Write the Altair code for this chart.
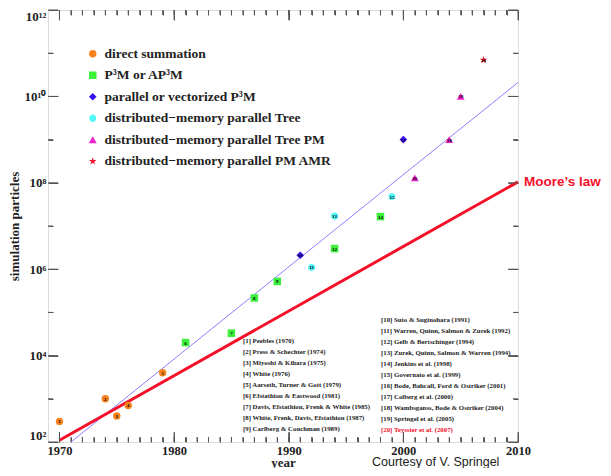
import altair as alt
import pandas as pd

# ---------------- data ----------------
ref_num = list(range(1, 21))
years = [1970, 1974, 1975, 1976, 1979, 1981, 1985, 1987, 1989, 1991,
         1992, 1994, 1994, 1998, 1999, 2001, 2000, 2004, 2005, 2007]
particles = [300, 1000, 400, 700, 4000, 2.0e4, 3.3e4, 2.16e5, 5.2e5, 2.1e6,
             1.1e6, 3.0e6, 1.7e7, 1.65e7, 4.8e7, 1.3e8, 1.0e9, 1.0e9, 1.0e10, 7.0e10]
categories = [
    "direct summation",
    "P³M or AP³M",
    "parallel or vectorized P³M",
    "distributed−memory parallel Tree",
    "distributed−memory parallel Tree PM",
    "distributed−memory parallel PM AMR",
]
point_cat = [0, 0, 0, 0, 0, 1, 1, 1, 1, 2, 3, 1, 3, 1, 3, 4, 2, 4, 4, 5]
cat_colors = ["#f7821e", "#3cf03c", "#3a10f0", "#50f8f8", "#ee22cc", "#f5102a"]
HEX = "M0,-1L0.866,-0.5L0.866,0.5L0,1L-0.866,0.5L-0.866,-0.5Z"
STAR = ("M0,-1L0.2245,-0.309L0.951,-0.309L0.363,0.118L0.588,0.809L0,0.382"
        "L-0.588,0.809L-0.363,0.118L-0.951,-0.309L-0.2245,-0.309Z")
cat_shapes = ["circle", "square", "diamond", HEX, "triangle-up", STAR]
cat_sizes = [55, 64, 121, 120, 110, 300]

fit_years = [1971, 2010]
fit_values = [100, 2.1e10]
moore_years = [1970, 2010]
moore_values = [110, 1.05e8]
moore_label = "Moore’s law"

refs_col1 = [
    "[1] Peebles (1970)",
    "[2] Press & Schechter (1974)",
    "[3] Miyoshi & Kihara (1975)",
    "[4] White (1976)",
    "[5] Aarseth, Turner & Gott (1979)",
    "[6] Efstathiou & Eastwood (1981)",
    "[7] Davis, Efstathiou, Frenk & White (1985)",
    "[8] White, Frenk, Davis, Efstathiou (1987)",
    "[9] Carlberg & Couchman (1989)",
]
refs_col2 = [
    "[10] Suto & Suginohara (1991)",
    "[11] Warren, Quinn, Salmon & Zurek (1992)",
    "[12] Gelb & Bertschinger (1994)",
    "[13] Zurek, Quinn, Salmon & Warren (1994)",
    "[14] Jenkins et al. (1998)",
    "[15] Governato et al. (1999)",
    "[16] Bode, Bahcall, Ford & Ostriker (2001)",
    "[17] Colberg et al. (2000)",
    "[18] Wambsganss, Bode & Ostriker (2004)",
    "[19] Springel et al. (2005)",
]
ref_highlight = "[20] Teyssier et al. (2007)"
courtesy = "Courtesy of V. Springel"

x_major = [1970, 1980, 1990, 2000, 2010]
x_minor = list(range(1970, 2010))
y_major = [1e2, 1e4, 1e6, 1e8, 1e10, 1e12]
y_minor = [1e3, 1e5, 1e7, 1e9, 1e11]
y_labels = ["10²", "10⁴", "10⁶", "10⁸", "10¹⁰", "10¹²"]

# ---------------- build ----------------
W, H = 470, 432
SERIF = "Liberation Serif"
SANS = "Liberation Sans"
AX = "#555555"
TXT = "#222222"
RED = "#f5102a"

df = pd.DataFrame({
    "num": ref_num,
    "year": years,
    "particles": particles,
    "method": [categories[i] for i in point_cat],
})

x_scale = alt.Scale(domain=[1969, 2010], nice=False, zero=False)
y_scale = alt.Scale(type="log", domain=[1e2, 1e12], nice=False)

label_expr = "'" + y_labels[-1] + "'"
for v, l in reversed(list(zip(y_major[:-1], y_labels[:-1]))):
    label_expr = f"datum.value < {v * 3:g} ? '{l}' : ({label_expr})"


# inward-pointing tick axes (negative tick size given as an expression)
def tick_axes(x_orient, y_orient, xv, yv, size):
    common = dict(labels=False, domain=False, grid=False, title=None,
                  tickColor=AX, tickWidth=1, ticks=True,
                  tickSize={"expr": str(-size)})
    return alt.Chart(df).mark_point(opacity=0).encode(
        x=alt.X("year:Q", scale=x_scale,
                axis=alt.Axis(orient=x_orient, values=xv, **common)),
        y=alt.Y("particles:Q", scale=y_scale,
                axis=alt.Axis(orient=y_orient, values=yv, **common)),
    )


tick_layers = [
    tick_axes("bottom", "left", x_major, y_major, 10),
    tick_axes("bottom", "left", x_minor, y_minor, 5),
    tick_axes("top", "right", x_major, y_major, 10),
    tick_axes("top", "right", x_minor, y_minor, 5),
]

# the same tick marks also drawn as short rules along the frame
tick_rows = []
for vals, ln in ((x_minor, 5), (x_major, 10)):
    for v in vals:
        tick_rows += [{"tx": v, "edge": "bottom", "len": ln}, {"tx": v, "edge": "top", "len": ln}]
ytick_rows = []
for vals, ln in ((y_minor, 5), (y_major, 10)):
    for v in vals:
        ytick_rows += [{"ty": v, "edge": "left", "len": ln}, {"ty": v, "edge": "right", "len": ln}]

xt = alt.Chart(pd.DataFrame(tick_rows)).transform_calculate(
    py="datum.edge == 'top' ? 0 : height",
    py2="datum.edge == 'top' ? datum.len : height - datum.len",
).mark_rule(color=AX, strokeWidth=1).encode(
    x=alt.X("tx:Q", scale=x_scale, axis=None),
    y=alt.Y("py:Q", scale=None, axis=None),
    y2="py2:Q",
)
yt = alt.Chart(pd.DataFrame(ytick_rows)).transform_calculate(
    px="datum.edge == 'left' ? 0 : width",
    px2="datum.edge == 'left' ? datum.len : width - datum.len",
).mark_rule(color=AX, strokeWidth=1).encode(
    y=alt.Y("ty:Q", scale=y_scale, axis=None),
    x=alt.X("px:Q", scale=None, axis=None),
    x2="px2:Q",
)

fit_df = pd.DataFrame({"year": fit_years, "particles": fit_values})
moore_df = pd.DataFrame({"year": moore_years, "particles": moore_values})

fit_line = alt.Chart(fit_df).mark_line(color="#8c80ff", strokeWidth=1).encode(
    x=alt.X("year:Q", scale=x_scale, axis=None),
    y=alt.Y("particles:Q", scale=y_scale, axis=None),
)
moore_line = alt.Chart(moore_df).mark_line(color=RED, strokeWidth=3).encode(
    x=alt.X("year:Q", scale=x_scale, axis=None),
    y=alt.Y("particles:Q", scale=y_scale, axis=None),
)
moore_text = alt.Chart(pd.DataFrame({
    "year": [moore_years[-1]], "particles": [moore_values[-1]], "label": [moore_label]
})).mark_text(align="left", baseline="middle", dx=6, font=SANS, fontSize=13.5,
              fontWeight="bold", color=RED).encode(
    x=alt.X("year:Q", scale=x_scale, axis=None),
    y=alt.Y("particles:Q", scale=y_scale, axis=None),
    text="label:N",
)

legend = alt.Legend(orient="none", legendX=38, legendY=37, title=None,
                    labelFont=SERIF, labelFontSize=13.5, labelFontWeight="bold",
                    labelColor=TXT, rowPadding=6.5, labelOffset=5,
                    symbolStrokeWidth=0, padding=0, labelLimit=400)

points = alt.Chart(df).mark_point(filled=True, opacity=1, strokeWidth=0).encode(
    x=alt.X("year:Q", scale=x_scale,
            axis=alt.Axis(values=x_major, format="d", ticks=False, domain=False,
                          grid=False, labelFont=SERIF, labelFontSize=12.5,
                          labelFontWeight="bold", labelColor=TXT, labelPadding=2,
                          labelFlush=False, title="year", titleFont=SERIF,
                          titleFontSize=13, titleFontWeight="bold", titleColor=TXT,
                          titleBaseline="alphabetic", titleY=24)),
    y=alt.Y("particles:Q", scale=y_scale,
            axis=alt.Axis(values=y_major, labelExpr=label_expr, ticks=False,
                          domain=False, grid=False, labelFont=SERIF, labelFontSize=13,
                          labelFontWeight="bold", labelColor=TXT, labelPadding=2,
                          labelFlush=True, title="simulation particles",
                          titleFont=SERIF, titleFontSize=13, titleFontWeight="bold",
                          titleColor=TXT, titlePadding=3)),
    color=alt.Color("method:N", scale=alt.Scale(domain=categories, range=cat_colors),
                    legend=legend),
    shape=alt.Shape("method:N", scale=alt.Scale(domain=categories, range=cat_shapes),
                    legend=legend),
    size=alt.Size("method:N", scale=alt.Scale(domain=categories, range=cat_sizes),
                  legend=legend),
)

nums = alt.Chart(df).mark_text(font=SERIF, fontSize=5, fontWeight="bold",
                               color="black").encode(
    x=alt.X("year:Q", scale=x_scale, axis=None),
    y=alt.Y("particles:Q", scale=y_scale, axis=None),
    text="num:N",
)

one = pd.DataFrame({"k": [0]})
ref_style = dict(align="left", baseline="top", font=SERIF, fontSize=6.8,
                 fontWeight="bold", lineHeight=11.0)
refs1 = alt.Chart(one).mark_text(text=refs_col1, color=TXT, **ref_style).encode(
    x=alt.value(195), y=alt.value(328))
refs2 = alt.Chart(one).mark_text(text=refs_col2, color=TXT, **ref_style).encode(
    x=alt.value(333), y=alt.value(307))
refs3 = alt.Chart(one).mark_text(text=ref_highlight, color=RED, **ref_style).encode(
    x=alt.value(333), y=alt.value(417))
credit = alt.Chart(one).mark_text(text=courtesy, align="left", baseline="alphabetic",
                                  font=SANS, fontSize=12.5, color=TXT).encode(
    x=alt.value(324), y=alt.value(456))

chart = alt.layer(
    *tick_layers, fit_line, moore_line, points, nums, moore_text,
    refs1, refs2, refs3, credit, xt, yt
).resolve_axis(x="independent", y="independent").properties(
    width=W, height=H, autosize="none",
    padding={"left": 40, "top": 2, "right": 85, "bottom": 26},
).configure_view(stroke=AX, strokeWidth=1).configure(background="white")

chart.save("out.html", embed_options={"renderer": "svg", "actions": False})
